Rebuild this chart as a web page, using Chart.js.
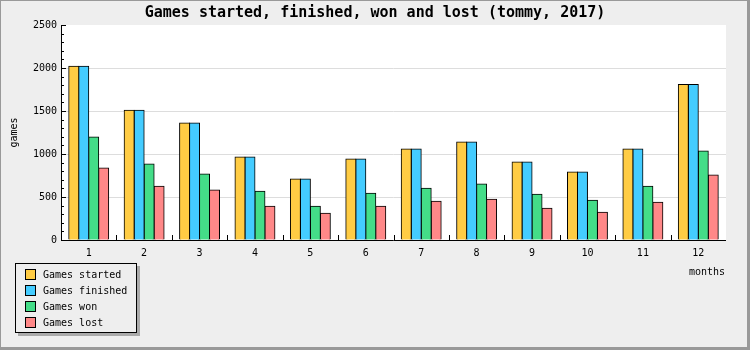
<!DOCTYPE html>
<html>
<head>
<meta charset="utf-8">
<script src="https://cdn.jsdelivr.net/npm/chart.js@4/dist/chart.umd.min.js"></script>
<style>
html,body{margin:0;padding:0;background:#eeeeee;}
canvas{display:block;}
</style>
</head>
<body>
<canvas id="c" width="750" height="350"></canvas>
<script>
const chartTitle = 'Games started, finished, won and lost (tommy, 2017)';
const xAxisTitle = 'months';
const yAxisTitle = 'games';
const months = ['1','2','3','4','5','6','7','8','9','10','11','12'];
const gamesStarted  = [2020, 1510, 1360, 965, 708, 941, 1058, 1140, 906, 790, 1058, 1808];
const gamesFinished = [2020, 1510, 1360, 965, 708, 941, 1058, 1140, 906, 790, 1058, 1808];
const gamesWon      = [1198, 883, 766, 568, 393, 545, 603, 650, 533, 463, 626, 1035];
const gamesLost     = [836, 626, 580, 393, 311, 393, 451, 475, 370, 323, 440, 755];
const yMin = 0, yMax = 2500, yStep = 500, yMinorStep = 100;

const MONO = '"DejaVu Sans Mono", "Liberation Mono", monospace';

const decor = {
  id: 'decor',
  beforeDraw(chart) {
    const ctx = chart.ctx, a = chart.chartArea;
    ctx.save();
    ctx.fillStyle = '#999999';
    ctx.fillRect(0, 0, 750, 350);
    ctx.fillStyle = '#eeeeee';
    ctx.fillRect(1, 1, 746, 346);
    ctx.fillStyle = '#ffffff';
    ctx.fillRect(a.left, a.top, a.right - a.left, a.bottom - a.top);
    ctx.restore();
  },
  afterDraw(chart) {
    const ctx = chart.ctx, a = chart.chartArea;
    const xs = chart.scales.x, ys = chart.scales.y;
    ctx.save();
    ctx.strokeStyle = '#000';
    ctx.lineWidth = 1;
    ctx.beginPath();
    ctx.moveTo(Math.round(a.left) + 0.5, a.top);
    ctx.lineTo(Math.round(a.left) + 0.5, a.bottom + 1);
    ctx.moveTo(a.left, Math.round(a.bottom) + 0.5);
    ctx.lineTo(a.right, Math.round(a.bottom) + 0.5);
    for (let v = yMin; v <= yMax; v += yMinorStep) {
      const y = Math.round(ys.getPixelForValue(v)) + 0.5;
      const len = (v % yStep === 0) ? 5 : 3;
      ctx.moveTo(a.left, y);
      ctx.lineTo(a.left + len, y);
    }
    for (let i = 0; i < months.length - 1; i++) {
      const x = Math.round((xs.getPixelForTick(i) + xs.getPixelForTick(i + 1)) / 2) + 0.5;
      ctx.moveTo(x, a.bottom);
      ctx.lineTo(x, a.bottom - 5);
    }
    ctx.stroke();

    ctx.fillStyle = '#000';
    ctx.font = 'bold 15px ' + MONO;
    ctx.textAlign = 'center';
    ctx.textBaseline = 'middle';
    ctx.fillText(chartTitle, 375, 13);

    ctx.font = '10px ' + MONO;
    ctx.textAlign = 'right';
    ctx.fillText(xAxisTitle, 725, 272);
    ctx.save();
    ctx.translate(14, (a.top + a.bottom) / 2);
    ctx.rotate(-Math.PI / 2);
    ctx.textAlign = 'center';
    ctx.fillText(yAxisTitle, 0, 0);
    ctx.restore();

    const lx = 15, ly = 263, lw = 122, lh = 70;
    ctx.fillStyle = '#aaaaaa';
    ctx.fillRect(lx + 3, ly + 3, lw, lh);
    ctx.fillStyle = '#eeeeee';
    ctx.fillRect(lx, ly, lw, lh);
    ctx.strokeStyle = '#000';
    ctx.strokeRect(lx + 0.5, ly + 0.5, lw - 1, lh - 1);
    chart.data.datasets.forEach((ds, i) => {
      const sy = ly + 6 + i * 16;
      ctx.fillStyle = ds.backgroundColor;
      ctx.fillRect(lx + 10, sy, 10, 10);
      ctx.strokeStyle = '#000';
      ctx.strokeRect(lx + 10.5, sy + 0.5, 10, 10);
      ctx.fillStyle = '#000';
      ctx.textAlign = 'left';
      ctx.textBaseline = 'middle';
      ctx.fillText(ds.label, lx + 28, sy + 6);
    });
    ctx.restore();
  }
};

const mk = (label, data, color) => ({
  label, data, backgroundColor: color, borderColor: '#000', borderWidth: 1, borderSkipped: 'bottom', inflateAmount: 0.5
});

new Chart(document.getElementById('c'), {
  type: 'bar',
  data: {
    labels: months,
    datasets: [
      mk('Games started', gamesStarted, '#ffcc44'),
      mk('Games finished', gamesFinished, '#44ccff'),
      mk('Games won', gamesWon, '#44dd88'),
      mk('Games lost', gamesLost, '#ff8888')
    ]
  },
  options: {
    responsive: false,
    animation: false,
    devicePixelRatio: 1,
    layout: { padding: { left: 0, top: 25, right: 24, bottom: 0 } },
    datasets: { bar: { categoryPercentage: 0.72, barPercentage: 1.0 } },
    plugins: { legend: { display: false }, title: { display: false }, tooltip: { enabled: false } },
    scales: {
      x: {
        grid: { display: false, drawTicks: false },
        border: { display: false },
        ticks: { color: '#000', font: { family: MONO, size: 10 }, padding: 7, maxRotation: 0 },
        afterFit: s => { s.height = 110; }
      },
      y: {
        min: yMin, max: yMax,
        grid: {
          drawTicks: false,
          color: c => (c.tick && (c.tick.value === yMax || c.tick.value === yMin)) ? 'rgba(0,0,0,0)' : '#dddddd'
        },
        border: { display: false },
        ticks: { stepSize: yStep, color: '#000', font: { family: MONO, size: 10 }, padding: 4, callback: v => String(v) },
        afterFit: s => { s.width = 61; }
      }
    }
  },
  plugins: [decor]
});
</script>
</body>
</html>
